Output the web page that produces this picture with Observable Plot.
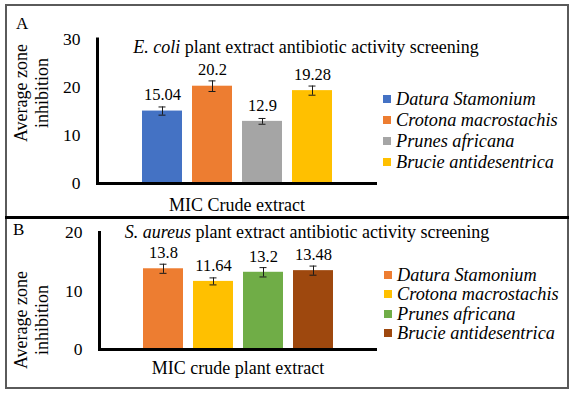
<!DOCTYPE html>
<html><head><meta charset="utf-8">
<script src="https://cdn.jsdelivr.net/npm/d3@7"></script>
<script src="https://cdn.jsdelivr.net/npm/@observablehq/plot@0.6"></script>
<style>
body{margin:0;background:#fff;}
#wrap{position:relative;width:578px;height:394px;color:#000;overflow:hidden;font-family:"Liberation Serif","Times New Roman",serif;}
.abs{position:absolute;white-space:nowrap;line-height:1;}
.box{position:absolute;box-sizing:border-box;}
.ylab{position:absolute;width:140px;height:44px;text-align:center;font-size:18px;line-height:21px;transform:rotate(-90deg);}
.leg{position:absolute;font-style:italic;font-size:18.3px;line-height:1;white-space:nowrap;}
.sw{position:absolute;width:8px;height:8px;}
svg{position:absolute;left:0;}
</style></head><body><div id="wrap"></div>
<script>
// ---- data ----
const series = ["Datura Stamonium","Crotona macrostachis","Prunes africana","Brucie antidesentrica"];
const valuesA = [15.04, 20.2, 12.9, 19.28];
const errorsA = [0.85, 1.1, 0.6, 0.95];
const colorsA = ["#4472C4","#ED7D31","#A5A5A5","#FFC000"];
const ticksA = [0, 10, 20, 30];
const valuesB = [13.8, 11.64, 13.2, 13.48];
const errorsB = [0.78, 0.6, 0.8, 0.78];
const colorsB = ["#ED7D31","#FFC000","#70AD47","#9E480E"];
const ticksB = [0, 10, 20];
const titleA = ["E. coli", " plant extract antibiotic activity screening"];
const titleB = ["S. aureus", " plant extract antibiotic activity screening"];
const xLabelA = "MIC Crude extract";
const xLabelB = "MIC crude plant extract";
const yLabel = ["Average zone", "inhibition"];

const wrap = document.getElementById("wrap");

function panel(values, errors, colors, ticks, o) {
  const data = series.map((s, i) => ({s, v: values[i], e: errors[i]}));
  const p = Plot.plot({
    width: 578, height: o.height,
    marginTop: o.mt, marginBottom: o.mb, marginLeft: o.ml, marginRight: o.mr,
    style: {fontFamily: '"Liberation Serif","Times New Roman",serif', fontSize: "17.5px", color: "#000", background: "transparent", overflow: "visible"},
    x: {domain: series, axis: null, paddingInner: 0.2, paddingOuter: o.po},
    y: {domain: [0, ticks[ticks.length - 1]], ticks, tickSize: 0, tickPadding: 17, label: null, tickFormat: d => String(d)},
    color: {domain: series, range: colors},
    marks: [
      Plot.barY(data, {x: "s", y: "v", fill: "s"}),
      Plot.ruleX(data, {x: "s", y1: d => d.v - d.e, y2: d => d.v + d.e, stroke: "#1a1a1a", strokeWidth: 1}),
      Plot.tickY(data, {x: "s", y: d => d.v - d.e, insetLeft: 16.5, insetRight: 16.5, stroke: "#1a1a1a", strokeWidth: 1}),
      Plot.tickY(data, {x: "s", y: d => d.v + d.e, insetLeft: 16.5, insetRight: 16.5, stroke: "#1a1a1a", strokeWidth: 1}),
      Plot.text(data, {x: "s", y: "v", text: d => String(d.v), dy: -16, fontSize: 16.5, fill: "#000"}),
      Plot.frame({anchor: "left", stroke: "#000", strokeWidth: 3}),
      Plot.ruleY([0], {stroke: "#000", strokeWidth: 3})
    ]
  });
  p.style.top = o.top + "px";
  wrap.appendChild(p);
}

function addText(html, cls, left, top, extra) {
  const d = document.createElement("div");
  d.className = cls;
  d.innerHTML = html;
  d.style.left = left + "px";
  d.style.top = top + "px";
  if (extra) Object.assign(d.style, extra);
  wrap.appendChild(d);
  return d;
}

function centered(html, cx, cy, size) {
  const d = addText(html, "abs", 0, 0, {fontSize: size + "px"});
  const r = d.getBoundingClientRect();
  d.style.left = (cx - r.width / 2) + "px";
  d.style.top = (cy - r.height / 2) + "px";
}

function legend(colors, x, y0, step) {
  series.forEach((s, i) => {
    const cy = y0 + i * step;
    const sw = document.createElement("div");
    sw.className = "sw";
    sw.style.background = colors[i];
    sw.style.left = x + "px";
    sw.style.top = (cy - 4) + "px";
    wrap.appendChild(sw);
    const t = addText(s, "leg", x + 13, 0);
    const r = t.getBoundingClientRect();
    t.style.top = (cy - r.height / 2) + "px";
  });
}

// frames
addText("", "box", 5, 4, {width: "564px", height: "385px", border: "2px solid #5a5a5a"});
addText("", "box", 5, 215.5, {width: "564px", height: "3px", background: "#000"});

panel(valuesA, errorsA, colorsA, ticksA, {top: 0, height: 217, mt: 38.5, mb: 34, ml: 97, mr: 201, po: 0.85});
panel(valuesB, errorsB, colorsB, ticksB, {top: 217, height: 177, mt: 15, mb: 45, ml: 99, mr: 201, po: 0.88});

// panel letters
addText("A", "abs", 16, 15, {fontSize: "17px"});
addText("B", "abs", 13, 221, {fontSize: "17px"});

// titles
centered("<i>" + titleA[0] + "</i>" + titleA[1], 306, 47, 18);
centered("<i>" + titleB[0] + "</i>" + titleB[1], 307, 232, 18);

// x labels
centered(xLabelA, 237, 205, 18);
centered(xLabelB, 238, 368, 18);

// y labels
addText(yLabel.join("<br>"), "ylab", 33 - 70, 93 - 22);
addText(yLabel.join("<br>"), "ylab", 33 - 70, 320 - 22);

// legends
legend(colorsA, 383, 99, 21);
legend(colorsB, 384, 275, 19.4);
</script></body></html>
